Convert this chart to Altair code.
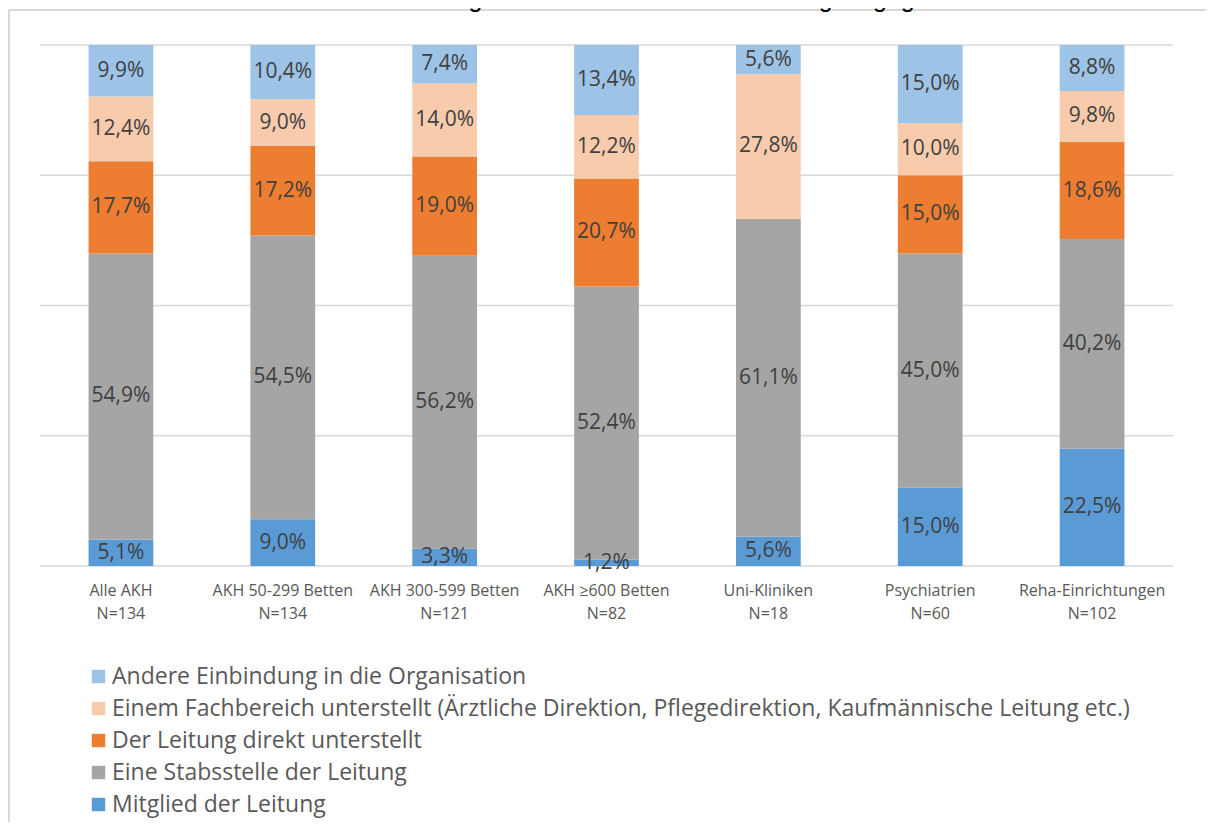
import altair as alt
import pandas as pd

title_text = "1.4.4.   Wie ist das Zentrale KRM-Team organisatorisch in Ihrer Einrichtung eingegliedert?"

categories = ["Alle AKH", "AKH 50-299 Betten", "AKH 300-599 Betten", "AKH ≥600 Betten",
              "Uni-Kliniken", "Psychiatrien", "Reha-Einrichtungen"]
sample_sizes = ["N=134", "N=134", "N=121", "N=82", "N=18", "N=60", "N=102"]

# stacking order bottom -> top
series = [
    "Mitglied der Leitung",
    "Eine Stabsstelle der Leitung",
    "Der Leitung direkt unterstellt",
    "Einem Fachbereich unterstellt (Ärztliche Direktion, Pflegedirektion, Kaufmännische Leitung etc.)",
    "Andere Einbindung in die Organisation",
]
mitglied = [5.1, 9.0, 3.3, 1.2, 5.6, 15.0, 22.5]
stabsstelle = [54.9, 54.5, 56.2, 52.4, 61.1, 45.0, 40.2]
direkt = [17.7, 17.2, 19.0, 20.7, 0.0, 15.0, 18.6]
fachbereich = [12.4, 9.0, 14.0, 12.2, 27.8, 10.0, 9.8]
andere = [9.9, 10.4, 7.4, 13.4, 5.6, 15.0, 8.8]
series_colors = ["#5B9BD5", "#A5A5A5", "#ED7D31", "#F8CBAD", "#9DC3E6"]
grid_values = [0.0, 0.25, 0.5, 0.75, 1.0]

values = [mitglied, stabsstelle, direkt, fachbereich, andere]
labels = [c + "\n" + n for c, n in zip(categories, sample_sizes)]

rows = []
for si, (s, vals) in enumerate(zip(series, values)):
    for lab, v in zip(labels, vals):
        rows.append({"cat": lab, "series": s, "order": si, "value": v})
df = pd.DataFrame(rows)
grid_df = pd.DataFrame({"g": grid_values})

legend_order = series[::-1]
legend_colors = series_colors[::-1]

FONT = "Open Sans"
W, H = 1133, 521

base = alt.Chart(df).transform_joinaggregate(
    total="sum(value)", groupby=["cat"]
).transform_stack(
    stack="value", groupby=["cat"], as_=["y0", "y1"], sort=[alt.SortField("order", order="ascending")]
).transform_calculate(
    p0="datum.y0 / datum.total",
    p1="datum.y1 / datum.total",
    pm="(datum.y0 + datum.y1) / 2 / datum.total",
    txt="replace(format(datum.value, '.1f'), '.', ',') + '%'",
)

yscale = alt.Scale(domain=[0, 1], nice=False)

grid = alt.Chart(grid_df).mark_rule(color="#D9D9D9", strokeWidth=1.5).encode(
    y=alt.Y("g:Q", scale=yscale, axis=None),
    x=alt.value(0), x2=alt.value(W),
)

xenc = alt.X(
    "cat:N", sort=labels, title=None,
    scale=alt.Scale(paddingInner=0.6, paddingOuter=0.3),
    axis=alt.Axis(labelExpr="split(datum.label, '\\n')", labelAngle=0, labelFont=FONT,
                  labelFontSize=16, labelColor="#595959", labelLineHeight=23,
                  labelPadding=16, ticks=False, domain=False, grid=False,
                  labelBaseline="top"),
)

bars = base.mark_bar().encode(
    x=xenc,
    y=alt.Y("p0:Q", scale=yscale, title=None, axis=None),
    y2="p1:Q",
    color=alt.Color("series:N", scale=alt.Scale(domain=legend_order, range=legend_colors),
                    legend=alt.Legend(orient="none", legendX=47, legendY=620, title=None,
                                      symbolType="square", symbolSize=180, symbolStrokeWidth=0,
                                      labelFont=FONT, labelFontSize=23, labelColor="#595959",
                                      labelLimit=1200, rowPadding=8, padding=0,
                                      labelOffset=2)),
)

texts = base.transform_filter("datum.value > 0").mark_text(
    font=FONT, fontSize=21, color="#404040"
).encode(
    x=alt.X("cat:N", sort=labels),
    y=alt.Y("pm:Q", scale=yscale, axis=None),
    text="txt:N",
)

frame_df = pd.DataFrame({"k": [0]})
frame_v = alt.Chart(frame_df).mark_rule(color="#D9D9D9", strokeWidth=2).encode(
    x=alt.value(-31), y=alt.value(-35), y2=alt.value(900))
frame_h = alt.Chart(frame_df).mark_rule(color="#D9D9D9", strokeWidth=2).encode(
    x=alt.value(-31), x2=alt.value(1300), y=alt.value(-35))
title_mark = alt.Chart(frame_df).mark_text(
    font="Liberation Sans", fontSize=25, color="#000000", align="left", baseline="alphabetic"
).encode(x=alt.value(-23), y=alt.value(-38), text=alt.value(title_text))

chart = alt.layer(frame_v, frame_h, title_mark, grid, bars, texts).properties(
    width=W, height=H,
    background="white",
    autosize=alt.AutoSizeParams(type="none"),
    padding={"left": 32, "top": 37, "right": 33, "bottom": 256},
).configure_view(stroke="transparent", strokeWidth=0)

chart.save("out.html", embed_options={"renderer": "svg", "actions": False})
